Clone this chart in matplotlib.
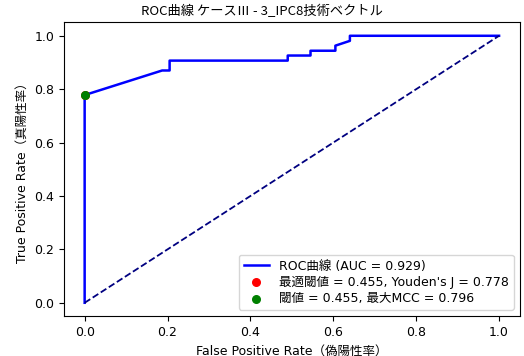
import matplotlib.pyplot as plt

plt.rcParams['font.family'] = ['DejaVu Sans', 'Noto Sans CJK JP']

# ROC points (false positive rate / true positive rate)
fpr = [0.0, 0.0, 0.187, 0.205, 0.205, 0.49, 0.49, 0.545, 0.545, 0.605, 0.605, 0.64, 0.64, 1.0]
tpr = [0.0, 0.778, 0.870, 0.870, 0.907, 0.907, 0.926, 0.926, 0.944, 0.944, 0.963, 0.981, 1.0, 1.0]
auc_value = 0.929

# optimal thresholds
youden_fpr, youden_tpr = 0.0, 0.778
youden_thr, youden_j = 0.455, 0.778
mcc_fpr, mcc_tpr = 0.0, 0.778
mcc_thr, mcc_max = 0.455, 0.796

fig = plt.figure(figsize=(5.24, 3.56), dpi=100)
ax = fig.add_axes([0.122, 0.112, 0.870, 0.825])

ax.plot(fpr, tpr, color='blue', lw=1.8, label=f'ROC曲線 (AUC = {auc_value:.3f})')
ax.plot([0, 1], [0, 1], color='navy', lw=1.3, linestyle='--')
ax.scatter(youden_fpr, youden_tpr, color='red', s=30, zorder=3,
           label=f'最適閾値 = {youden_thr:.3f}, Youden\'s J = {youden_j:.3f}')
ax.scatter(mcc_fpr, mcc_tpr, color='green', s=30, zorder=4,
           label=f'閾値 = {mcc_thr:.3f}, 最大MCC = {mcc_max:.3f}')

ax.set_xlim(-0.05, 1.05)
ax.set_ylim(-0.05, 1.05)
ax.tick_params(labelsize=9)
ax.set_xlabel('False Positive Rate（偽陽性率）', fontsize=9)
ax.set_ylabel('True Positive Rate（真陽性率）', fontsize=9)
fig.text(0.5, 0.968, 'ROC曲線 ケースⅢ - 3_IPC8技術ベクトル', fontsize=9.5,
         ha='center', va='center', family=['Noto Sans CJK JP', 'DejaVu Sans'])
ax.legend(loc='lower right', fontsize=9, labelspacing=0.25)

fig.savefig('out.png', dpi=100)
